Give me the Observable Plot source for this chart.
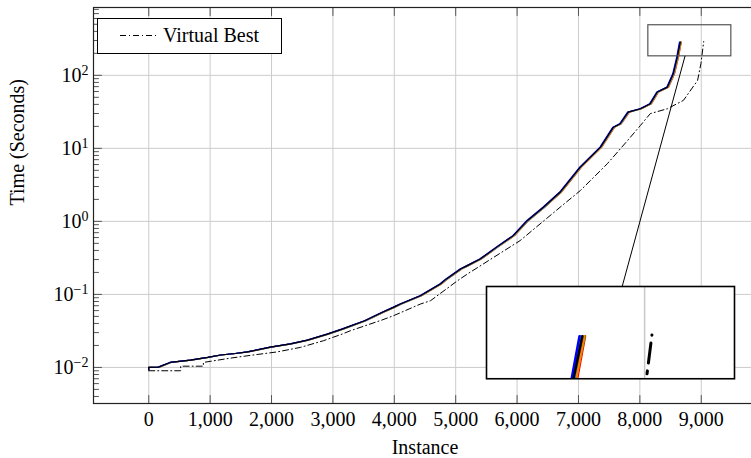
<!DOCTYPE html>
<html><head><meta charset="utf-8">
<script src="https://cdn.jsdelivr.net/npm/d3@7"></script>
<script src="https://cdn.jsdelivr.net/npm/@observablehq/plot@0.6"></script>
<style>
html,body{margin:0;padding:0;overflow:hidden;background:#fff;}
#wrap{position:relative;width:760px;height:458px;overflow:hidden;background:#fff;}
#wrap > svg{position:absolute;left:0;top:0;max-width:none !important;}
</style></head><body><div id="wrap"></div>
<script>
const FONT = "'Liberation Serif','Times New Roman',serif";
const xTicks = [0,1000,2000,3000,4000,5000,6000,7000,8000,9000];
const yTicks = [0.01,0.1,1,10,100];
const xDomain = [-900, 9900];
const yDomain = [0.003206, 848.6];

// time thresholds shared by the solver series (seconds)
const times = [0.0093,0.0100,0.0101,0.0117,0.0126,0.0137,0.0148,0.0155,0.0163,0.0190,0.0210,0.0237,0.0286,0.0335,0.0436,0.0566,0.0664,0.0738,0.096,0.139,0.163,0.223,0.248,0.305,0.451,0.638,1.03,1.56,2.5,5.52,10.4,19.5,21.7,31.4,34.9,40.9,59,69,105,178,286];
// instances solved per solver at each threshold
const solverRed    = [0,0,175,365,695,975,1190,1425,1630,2000,2330,2605,2930,3170,3540,3820,4005,4120,4445,4770,4870,5100,5210,5420,5700,5960,6190,6450,6720,7050,7380,7590,7700,7830,8030,8190,8305,8470,8565,8630,8675];
const solverGreen  = [0,0,168,358,688,968,1182,1418,1618,1992,2318,2595,2922,3162,3532,3812,3998,4112,4436,4762,4862,5092,5202,5412,5692,5952,6182,6442,6712,7042,7372,7582,7692,7822,8022,8182,8298,8462,8558,8622,8672];
const solverOrange = [0,0,170,360,690,970,1185,1420,1620,1995,2320,2600,2920,3165,3535,3815,4000,4115,4440,4765,4865,5095,5205,5415,5695,5955,6185,6445,6715,7045,7375,7585,7695,7825,8025,8185,8300,8465,8560,8625,8670];
const solverPink   = [0,0,155,345,675,958,1168,1405,1605,1978,2305,2582,2905,3145,3515,3795,3980,4095,4420,4745,4845,5075,5185,5395,5675,5935,6165,6425,6695,7025,7355,7565,7675,7805,8005,8165,8280,8445,8540,8605,8652];
const solverBrown  = [0,0,162,352,682,962,1172,1412,1612,1984,2312,2588,2912,3155,3525,3802,3988,4105,4428,4752,4855,5082,5195,5402,5685,5942,6175,6435,6702,7032,7362,7572,7685,7812,8012,8172,8288,8452,8548,8612,8662];
const solverCyan   = [0,0,165,355,685,965,1180,1415,1615,1990,2315,2590,2915,3160,3530,3805,3990,4110,4430,4755,4860,5085,5200,5405,5690,5945,6180,6440,6705,7035,7365,7575,7690,7815,8015,8175,8290,8455,8550,8615,8650];
const solverBlue   = [0,0,150,340,670,955,1165,1400,1600,1975,2300,2580,2900,3140,3510,3790,3975,4090,4415,4740,4840,5070,5180,5390,5670,5930,6160,6420,6690,7020,7350,7560,7670,7800,8000,8160,8275,8440,8535,8600,8645];
const solverBlack  = [0,0,160,350,680,960,1170,1410,1610,1980,2310,2585,2910,3150,3520,3800,3985,4100,4425,4750,4850,5080,5190,5400,5680,5940,6170,6430,6700,7030,7360,7570,7680,7810,8010,8170,8285,8450,8545,8610,8660];
const solverColors = ["#ff0000","#00e000","#ff8000","#ffb0c0","#a0522d","#1ea0ff","#0000ff","#000000"];

// virtual best
const vbTimes = [0.0090,0.0090,0.0104,0.0104,0.0117,0.0134,0.0146,0.0163,0.0188,0.0232,0.0286,0.0318,0.0446,0.051,0.074,0.082,0.154,0.19,0.546,1.56,2.64,6.15,12.8,20.6,29.9,34.9,45.4,85,145,290];
const vbX     = [0,520,520,890,890,1330,1650,2090,2470,2845,3150,3285,3800,3985,4430,4590,5030,5190,6050,6700,7030,7470,7800,8010,8170,8450,8710,8940,8995,9040];

// spy window (data) and inset box (main-plot data coordinates)
const spyX = [8138, 9490], spyY = [182, 485];
const insetX = [5497, 9537], insetY = [0.00698, 0.128];

const solverSeries = [solverRed,solverGreen,solverOrange,solverPink,solverBrown,solverCyan,solverBlue,solverBlack]
  .map((xs, k) => ({color: solverColors[k], data: xs.map((x, i) => ({x, y: times[i]}))}));
const vbData = vbX.map((x, i) => ({x, y: vbTimes[i]}));

const minorY = [];
for (let e = -3; e <= 2; e++) for (let k = 2; k <= 9; k++) {
  const v = k * Math.pow(10, e);
  if (v > yDomain[0] && v < yDomain[1]) minorY.push(v);
}
const tickShape = {draw(ctx, l) { ctx.moveTo(0, 0); ctx.lineTo(0, -l); }};
const tickStyle = {stroke: "#555", strokeWidth: 1, anchor: "start", shape: tickShape};

const main = Plot.plot({
  width: 760, height: 458,
  marginLeft: 93, marginRight: 4, marginTop: 7, marginBottom: 55,
  x: {domain: xDomain, label: null},
  y: {type: "log", domain: yDomain, label: null},
  style: {fontFamily: FONT, fontSize: "20px", background: "white", color: "black", overflow: "visible", maxWidth: "none"},
  marks: [
    Plot.gridX(xTicks, {stroke: "#cccccc", strokeOpacity: 1, strokeWidth: 1}),
    Plot.gridY(yTicks, {stroke: "#cccccc", strokeOpacity: 1, strokeWidth: 1}),
    Plot.axisX(xTicks, {tickSize: 0, tickPadding: 8, tickFormat: d3.format(","), label: null, fontSize: 20}),
    Plot.axisY(yTicks, {tickSize: 0, tickPadding: 5, tickFormat: d => String(Math.round(Math.log10(d))), label: null, fontSize: 20}),
    Plot.vector(xTicks, {x: d => d, frameAnchor: "bottom", rotate: 0, length: 8, ...tickStyle}),
    Plot.vector(xTicks, {x: d => d, frameAnchor: "top", rotate: 180, length: 8, ...tickStyle}),
    Plot.vector(yTicks, {y: d => d, frameAnchor: "left", rotate: 90, length: 8, ...tickStyle}),
    Plot.vector(minorY, {y: d => d, frameAnchor: "left", rotate: 90, length: 5, ...tickStyle}),
    Plot.text(["Instance"], {frameAnchor: "bottom", dy: 50, fontSize: 20}),
    Plot.text(["Time (Seconds)"], {frameAnchor: "left", dx: -76, rotate: -90, fontSize: 20}),
    ...solverSeries.map(s => Plot.line(s.data, {x: "x", y: "y", stroke: s.color, strokeWidth: 1.2})),
    Plot.line(vbData, {x: "x", y: "y", stroke: "black", strokeWidth: 1, strokeDasharray: "6,3,1,3"}),
    Plot.rect([{x1: spyX[0], x2: spyX[1], y1: spyY[0], y2: spyY[1]}], {x1: "x1", x2: "x2", y1: "y1", y2: "y2", fill: "none", stroke: "#555", strokeWidth: 1.2}),
    Plot.frame({stroke: "#222", strokeWidth: 1.2})
  ]
});
main.style.maxWidth = "none";
const wrap = document.getElementById("wrap");
wrap.appendChild(main);

// superscript exponents on y tick labels
d3.select(main).selectAll('g[aria-label="y-axis tick label"] text').each(function() {
  const e = this.textContent.replace("-", "\u2212");
  const t = d3.select(this);
  t.text("10");
  t.append("tspan").attr("dy", "-0.5em").attr("font-size", "70%").text(e);
});

const sx = main.scale("x"), sy = main.scale("y");
const spyB = {l: sx.apply(spyX[0]), r: sx.apply(spyX[1]), t: sy.apply(spyY[1]), b: sy.apply(spyY[0])};
const insB = {l: sx.apply(insetX[0]), r: sx.apply(insetX[1]), t: sy.apply(insetY[1]), b: sy.apply(insetY[0])};

// connector line between the centres, clipped to the two boxes
const c1 = [(spyB.l + spyB.r) / 2, (spyB.t + spyB.b) / 2];
const c2 = [(insB.l + insB.r) / 2, (insB.t + insB.b) / 2];
const at = y => c1[0] + (c2[0] - c1[0]) * (y - c1[1]) / (c2[1] - c1[1]);
d3.select(main).append("line")
  .attr("x1", at(spyB.b)).attr("y1", spyB.b)
  .attr("x2", at(insB.t)).attr("y2", insB.t)
  .attr("stroke", "black").attr("stroke-width", 1);

// inset (magnified spy window)
const inset = Plot.plot({
  width: insB.r - insB.l, height: insB.b - insB.t, margin: 0,
  x: {domain: spyX, axis: null},
  y: {type: "log", domain: spyY, axis: null},
  style: {background: "white", overflow: "visible", maxWidth: "none"},
  marks: [
    Plot.gridX(xTicks, {stroke: "#c8c8c8", strokeOpacity: 1, strokeWidth: 1.5, clip: true}),
    ...solverSeries.map(s => Plot.line(s.data, {x: "x", y: "y", stroke: s.color, strokeWidth: 2.5, clip: true})),
    Plot.line(vbData, {x: "x", y: "y", stroke: "black", strokeWidth: 3, strokeDasharray: "20,8,3,8", clip: true}),
    Plot.frame({stroke: "black", strokeWidth: 1.6})
  ]
});
inset.style.position = "absolute";
inset.style.maxWidth = "none";
inset.style.left = insB.l + "px";
inset.style.top = insB.t + "px";
wrap.appendChild(inset);

// legend
const leg = d3.select(wrap).append("svg").attr("width", 760).attr("height", 458)
  .style("position", "absolute").style("left", 0).style("top", 0).style("pointer-events", "none");
leg.append("rect").attr("x", 97.5).attr("y", 18.5).attr("width", 184).attr("height", 35)
  .attr("fill", "white").attr("stroke", "black").attr("stroke-width", 1);
leg.append("line").attr("x1", 120).attr("x2", 157).attr("y1", 35.5).attr("y2", 35.5)
  .attr("stroke", "black").attr("stroke-dasharray", "6,3,1,3");
leg.append("text").attr("x", 163).attr("y", 42).attr("font-family", FONT).attr("font-size", 20).text("Virtual Best");
</script></body></html>
